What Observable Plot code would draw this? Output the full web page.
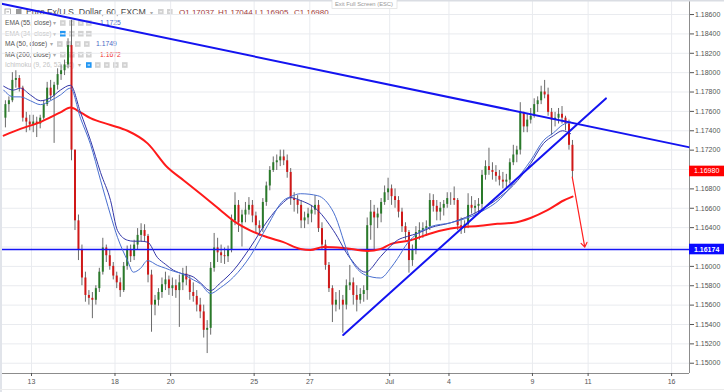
<!DOCTYPE html>
<html><head><meta charset="utf-8">
<script src="https://cdn.jsdelivr.net/npm/d3@7"></script>
<script src="https://cdn.jsdelivr.net/npm/@observablehq/plot@0.6"></script>
<style>
html,body{margin:0;padding:0;background:#fff;}
#chart{width:724px;height:392px;overflow:hidden;}
</style></head><body><div id="chart"></div>
<script>
// ---- data (EUR/USD, 3-hour bars) ----
const barHours = 3;
const firstOpen = 1.1753;
const close = [
 1.1767,1.1771,1.1792,1.1794,1.1784,1.1753,1.1749,1.1746,
 1.1749,1.1747,1.1753,1.1767,1.1784,1.1776,1.1787,1.1798,
 1.1802,1.1808,1.1828,1.1720,1.1647,1.1617,1.1588,1.1570,
 1.1567,1.1565,1.1577,1.1594,1.1619,1.1611,1.1600,1.1590,
 1.1583,1.1575,1.1600,1.1617,1.1610,1.1622,1.1632,1.1637,
 1.1631,1.1591,1.1560,1.1565,1.1573,1.1581,1.1586,1.1577,
 1.1580,1.1575,1.1583,1.1592,1.1586,1.1573,1.1569,1.1560,
 1.1553,1.1534,1.1536,1.1598,1.1619,1.1614,1.1611,1.1610,
 1.1617,1.1647,1.1663,1.1645,1.1653,1.1658,1.1663,1.1652,
 1.1642,1.1639,1.1666,1.1683,1.1699,1.1707,1.1709,1.1713,
 1.1709,1.1697,1.1670,1.1668,1.1663,1.1647,1.1650,1.1654,
 1.1658,1.1663,1.1639,1.1622,1.1601,1.1577,1.1560,1.1565,
 1.1565,1.1560,1.1580,1.1583,1.1570,1.1565,1.1571,1.1575,
 1.1642,1.1656,1.1650,1.1654,1.1666,1.1676,1.1680,1.1672,
 1.1668,1.1656,1.1641,1.1635,1.1606,1.1617,1.1635,1.1637,
 1.1639,1.1641,1.1668,1.1662,1.1656,1.1660,1.1664,1.1670,
 1.1670,1.1668,1.1642,1.1639,1.1643,1.1663,1.1660,1.1662,
 1.1664,1.1694,1.1703,1.1699,1.1697,1.1693,1.1689,1.1687,
 1.1689,1.1707,1.1715,1.1720,1.1759,1.1744,1.1751,1.1755,
 1.1767,1.1771,1.1780,1.1777,1.1759,1.1751,1.1753,1.1757,
 1.1753,1.1747,1.1725,1.1698];
const high = [
 1.1771,1.1775,1.1800,1.1802,1.1797,1.1786,1.1759,1.1756,
 1.1756,1.1754,1.1756,1.1771,1.1790,1.1792,1.1790,1.1804,
 1.1808,1.1813,1.1835,1.1854,1.1720,1.1653,1.1622,1.1594,
 1.1575,1.1573,1.1580,1.1598,1.1629,1.1622,1.1617,1.1604,
 1.1594,1.1588,1.1604,1.1621,1.1622,1.1627,1.1639,1.1644,
 1.1643,1.1633,1.1596,1.1570,1.1577,1.1588,1.1594,1.1590,
 1.1588,1.1586,1.1591,1.1598,1.1600,1.1590,1.1583,1.1575,
 1.1567,1.1560,1.1544,1.1604,1.1634,1.1629,1.1622,1.1619,
 1.1621,1.1653,1.1676,1.1668,1.1658,1.1666,1.1671,1.1668,
 1.1656,1.1647,1.1670,1.1687,1.1703,1.1713,1.1715,1.1720,
 1.1720,1.1715,1.1701,1.1676,1.1673,1.1668,1.1656,1.1660,
 1.1663,1.1673,1.1668,1.1645,1.1627,1.1604,1.1580,1.1573,
 1.1575,1.1570,1.1586,1.1601,1.1588,1.1580,1.1577,1.1580,
 1.1650,1.1668,1.1663,1.1660,1.1670,1.1683,1.1691,1.1684,
 1.1680,1.1672,1.1660,1.1645,1.1637,1.1622,1.1641,1.1645,
 1.1645,1.1647,1.1675,1.1674,1.1668,1.1666,1.1668,1.1676,
 1.1676,1.1682,1.1670,1.1650,1.1647,1.1675,1.1672,1.1668,
 1.1670,1.1699,1.1709,1.1722,1.1707,1.1704,1.1699,1.1697,
 1.1695,1.1711,1.1725,1.1724,1.1769,1.1759,1.1757,1.1763,
 1.1773,1.1775,1.1786,1.1792,1.1784,1.1763,1.1759,1.1763,
 1.1765,1.1755,1.1751,1.1730];
const low = [
 1.1743,1.1759,1.1769,1.1784,1.1780,1.1749,1.1738,1.1740,
 1.1738,1.1733,1.1742,1.1751,1.1765,1.1771,1.1727,1.1782,
 1.1792,1.1797,1.1804,1.1709,1.1637,1.1606,1.1580,1.1563,
 1.1560,1.1546,1.1560,1.1573,1.1591,1.1604,1.1596,1.1586,
 1.1577,1.1568,1.1573,1.1596,1.1604,1.1606,1.1617,1.1625,
 1.1625,1.1583,1.1532,1.1549,1.1559,1.1567,1.1575,1.1570,
 1.1569,1.1567,1.1537,1.1575,1.1580,1.1565,1.1563,1.1553,
 1.1546,1.1526,1.1510,1.1529,1.1594,1.1604,1.1603,1.1602,
 1.1604,1.1614,1.1642,1.1635,1.1620,1.1645,1.1653,1.1645,
 1.1635,1.1631,1.1635,1.1662,1.1678,1.1697,1.1699,1.1703,
 1.1704,1.1691,1.1663,1.1656,1.1654,1.1639,1.1639,1.1643,
 1.1645,1.1653,1.1635,1.1617,1.1596,1.1573,1.1542,1.1553,
 1.1555,1.1531,1.1555,1.1575,1.1560,1.1553,1.1561,1.1563,
 1.1565,1.1627,1.1617,1.1639,1.1645,1.1663,1.1668,1.1663,
 1.1660,1.1650,1.1635,1.1627,1.1593,1.1600,1.1612,1.1627,
 1.1629,1.1631,1.1637,1.1656,1.1647,1.1647,1.1652,1.1660,
 1.1663,1.1663,1.1637,1.1633,1.1634,1.1639,1.1654,1.1654,
 1.1654,1.1658,1.1689,1.1694,1.1689,1.1687,1.1683,1.1680,
 1.1680,1.1685,1.1704,1.1707,1.1715,1.1738,1.1738,1.1747,
 1.1753,1.1759,1.1767,1.1773,1.1755,1.1735,1.1744,1.1747,
 1.1747,1.1740,1.1720,1.1691];

// moving averages (time in trading days from 12 Jun)
const maTime = [0.00,0.35,0.60,0.96,1.32,1.68,2.04,2.40,2.76,3.12,
 3.48,3.84,4.09,4.45,4.66,4.92,5.17,5.53,5.82,6.10,
 6.35,6.82,7.07,7.43,7.79,8.26,8.87,9.48,10.05,10.31,
 10.67,11.28,11.85,12.46,13.00,13.54,13.90,14.15,14.51,14.87,
 15.34,16.06,17.13,17.85,18.32,18.93,19.40,19.76,20.08,20.37];
const ema55 = [1.1786,1.1782,1.1784,1.1777,1.1771,1.1774,1.1782,1.1787,1.1759,1.1730,
 1.1697,1.1668,1.1637,1.1627,1.1626,1.1626,1.1625,1.1609,1.1602,1.1596,
 1.1593,1.1589,1.1583,1.1575,1.1583,1.1596,1.1620,1.1647,1.1666,1.1671,
 1.1668,1.1658,1.1637,1.1608,1.1594,1.1610,1.1621,1.1627,1.1631,1.1634,
 1.1640,1.1645,1.1658,1.1672,1.1684,1.1706,1.1727,1.1735,1.1740,1.1737];
const ma50 = [1.1782,1.1775,1.1775,1.1771,1.1767,1.1771,1.1777,1.1784,1.1753,1.1726,
 1.1689,1.1653,1.1630,1.1606,1.1594,1.1598,1.1606,1.1601,1.1598,1.1595,
 1.1593,1.1586,1.1582,1.1572,1.1578,1.1589,1.1611,1.1642,1.1668,1.1672,
 1.1675,1.1673,1.1656,1.1608,1.1591,1.1588,1.1598,1.1608,1.1624,1.1634,
 1.1641,1.1645,1.1656,1.1670,1.1686,1.1709,1.1730,1.1738,1.1746,1.1749];
const ma200Time = [0.00,0.60,1.32,2.04,2.40,2.76,3.12,3.84,4.45,5.17,
 5.89,6.46,7.07,7.79,8.26,8.87,9.48,10.05,10.67,11.02,
 11.49,12.21,13.07,13.54,13.90,14.62,15.34,16.06,17.13,17.74,
 18.32,18.93,19.54,20.12,20.44];
const ma200 = [1.1735,1.1742,1.1749,1.1759,1.1764,1.1759,1.1753,1.1746,1.1740,1.1727,
 1.1702,1.1689,1.1675,1.1658,1.1647,1.1637,1.1630,1.1625,1.1618,1.1617,
 1.1620,1.1619,1.1616,1.1618,1.1623,1.1627,1.1634,1.1639,1.1642,1.1644,
 1.1645,1.1650,1.1658,1.1668,1.1672];

// drawn objects
const downTrendT = [-0.114, 24.61], downTrendP = [1.18714, 1.17231];
const upTrendT = [12.20, 21.64], upTrendP = [1.15291, 1.17734];
const support = 1.16174;
const lastClose = 1.16980;
const arrowT = [20.43, 20.88], arrowP = [1.16921, 1.16199];

// axes
const tickDays = [1, 4, 6, 9, 11, 13.87, 16, 19, 21, 24];
const tickLabels = ["13","18","20","25","27","Jul","4","9","11","16"];
const priceTicks = [1.150,1.152,1.154,1.156,1.158,1.160,1.162,1.164,1.166,1.168,
 1.170,1.172,1.174,1.176,1.178,1.180,1.182,1.184,1.186];
// labels hidden in the reference under the two price tags
const priceLabels = [1.150,1.152,1.154,1.156,1.158,1.160,1.164,1.166,1.168,
 1.172,1.174,1.176,1.178,1.180,1.182,1.184,1.186];
const xDomain = [-0.114, 24.643], yDomain = [1.14894, 1.18745];

// legend texts
const title = "Euro Fx/U.S. Dollar, 60, FXCM";
const ohlcLabels = ["O1.17037", "H1.17044", "L1.16905", "C1.16980"];
const studies = [
  {label: "EMA (55, close)", value: "1.1725", color: "#4a68c4", on: true},
  {label: "EMA (34, close)", value: null, on: false},
  {label: "MA (50, close)", value: "1.1749", color: "#4a68c4", on: true},
  {label: "MA (200, close)", value: "1.1672", color: "#f03030", on: true},
  {label: "Ichimoku (9, 26, 52, 26)", value: null, on: false}
];

// ---- build ----
const candles = close.map((c, i) => ({
  t: (i + 0.5) * barHours / 24,
  open: i ? close[i - 1] : firstOpen,
  high: high[i], low: low[i], close: c
}));
const maPts = maTime.map((t, i) => ({t, ema: ema55[i], ma: ma50[i]}));
const ma200Pts = ma200Time.map((t, i) => ({t, v: ma200[i]}));
const downPts = downTrendT.map((t, i) => ({t, p: downTrendP[i]}));
const upPts = upTrendT.map((t, i) => ({t, p: upTrendP[i]}));
const arrowData = [{t1: arrowT[0], p1: arrowP[0], t2: arrowT[1], p2: arrowP[1]}];
const labelOf = new Map(tickDays.map((d, i) => [d, tickLabels[i]]));

const UP = "#2a7a2a", DOWN = "#d01818";
const FONT = "'Liberation Sans', Arial, sans-serif";

const plot = Plot.plot({
  width: 724, height: 392,
  marginTop: 0, marginLeft: 0, marginRight: 35, marginBottom: 19,
  x: {domain: xDomain, label: null},
  y: {domain: yDomain, label: null},
  style: {fontFamily: FONT, background: "#fff"},
  marks: [
    Plot.gridX(tickDays, {stroke: "#e9ebef", strokeOpacity: 1}),
    Plot.gridY(priceTicks, {stroke: "#e9ebef", strokeOpacity: 1}),
    Plot.ruleX([xDomain[1]], {stroke: "#8c8c8c"}),
    Plot.ruleY([yDomain[0]], {stroke: "#8c8c8c"}),
    Plot.axisY(priceLabels, {anchor: "right", tickSize: 4, tickPadding: 1.5, fontSize: 7, color: "#555",
      tickFormat: d => d.toFixed(5)}),
    Plot.axisX(tickDays, {anchor: "bottom", tickSize: 3, tickPadding: 3, fontSize: 7, color: "#555",
      tickFormat: d => labelOf.get(d)}),
    Plot.ruleX(candles, {x: "t", y1: "low", y2: "high", stroke: "#6a6a6a", strokeWidth: 1}),
    Plot.ruleX(candles, {x: "t", y1: "open", y2: "close", strokeWidth: 2,
      stroke: d => d.close >= d.open ? UP : DOWN}),
    Plot.ruleY([support], {stroke: "#1414f5", strokeWidth: 1.6}),
    Plot.line(ma200Pts, {x: "t", y: "v", stroke: "#ff1a1a", strokeWidth: 2, curve: "monotone-x"}),
    Plot.line(maPts, {x: "t", y: "ema", stroke: "#3236a8", strokeWidth: 1, curve: "monotone-x"}),
    Plot.line(maPts, {x: "t", y: "ma", stroke: "#4a70d0", strokeWidth: 1, curve: "monotone-x"}),
    Plot.line(downPts, {x: "t", y: "p", stroke: "#1414f0", strokeWidth: 2}),
    Plot.line(upPts, {x: "t", y: "p", stroke: "#1414f0", strokeWidth: 2}),
    Plot.arrow(arrowData, {x1: "t1", y1: "p1", x2: "t2", y2: "p2", stroke: "#ff2020",
      strokeWidth: 1.2, headLength: 6.5, headAngle: 70})
  ]
});
document.getElementById("chart").appendChild(plot);

// ---- legend & decorations ----
const svg = d3.select(plot);
const yS = plot.scale("y");
const L = svg.insert("g", ":first-child").attr("font-family", FONT).attr("text-anchor", "start");

function icon(g, x, y, fill) {
  g.append("rect").attr("x", x).attr("y", y).attr("width", 5.6).attr("height", 5.6).attr("fill", fill);
  g.append("rect").attr("x", x + 1.6).attr("y", y + 2.3).attr("width", 2.4).attr("height", 1).attr("fill", "#fff");
}
// title row
L.append("rect").attr("x", 5).attr("y", 9).attr("width", 5.5).attr("height", 5.5).attr("fill", "none").attr("stroke", "#999").attr("stroke-width", 0.8);
L.append("line").attr("x1", 6.5).attr("x2", 9).attr("y1", 11.8).attr("y2", 11.8).attr("stroke", "#999").attr("stroke-width", 0.8);
L.append("rect").attr("x", 16).attr("y", 9).attr("width", 5.5).attr("height", 5.5).attr("fill", "#9a9a9a");
L.append("text").attr("x", 26).attr("y", 15).attr("font-size", 8.8).attr("fill", "#4a4a4a").text(title);
L.append("text").attr("x", 150).attr("y", 14.5).attr("font-size", 6).attr("fill", "#aaa").text("▾");
icon(L, 158, 9, "#d2d2d2"); icon(L, 167, 9, "#d2d2d2");
[179, 218, 255, 294].forEach((x, i) =>
  L.append("text").attr("x", x).attr("y", 15).attr("font-size", 8).attr("fill", "#a13a3a").text(ohlcLabels[i]));

// study rows
const rowY = [23, 33.7, 44, 54.7, 65];
const arrowX = [53, 53, 50, 53, 78];
const iconX = [[60, 69, 78, 86], [60, 69, 78, 86], [57, 66, 75, 84], [60, 69, 78, 86], [86, 95, 104, 113, 122]];
const valueX = [100, 0, 96, 100, 0];
studies.forEach((s, r) => {
  const y = rowY[r];
  L.append("text").attr("x", 5).attr("y", y + 2.4).attr("font-size", 6.6)
    .attr("fill", s.on ? "#555" : "#c4c4c4").text(s.label);
  L.append("text").attr("x", arrowX[r]).attr("y", y + 2.2).attr("font-size", 5.5).attr("fill", "#aaa").text("▾");
  iconX[r].forEach((x, k) => icon(L, x, y - 2.8, (!s.on && k === 0) ? "#2196f3" : "#d2d2d2"));
  if (s.value) L.append("text").attr("x", valueX[r]).attr("y", y + 2.4).attr("font-size", 6.8)
    .attr("fill", s.color).text(s.value);
});

// window chrome
const T = svg.append("g").attr("font-family", FONT).attr("text-anchor", "start");
T.append("rect").attr("x", 0).attr("y", 0).attr("width", 2).attr("height", 392).attr("fill", "#e1e4ea");
T.append("rect").attr("x", 0).attr("y", 0).attr("width", 724).attr("height", 1.5).attr("fill", "#dadde3");
T.append("line").attr("x1", 0).attr("x2", 724).attr("y1", 389.5).attr("y2", 389.5).attr("stroke", "#ececec");
T.append("rect").attr("x", 332).attr("y", -1).attr("width", 65).attr("height", 9.5).attr("fill", "#fff").attr("stroke", "#ddd").attr("stroke-width", 0.7);
T.append("text").attr("x", 335).attr("y", 6.3).attr("font-size", 5.8).attr("fill", "#999").text("Exit Full Screen (ESC)");

// price tags on the right axis
function tag(price, fill, bold) {
  const y = yS.apply(price);
  T.append("rect").attr("x", 689).attr("y", y - 5.3).attr("width", 35).attr("height", 10.6).attr("fill", fill);
  T.append("text").attr("x", 694).attr("y", y + 2.5).attr("font-size", 7).attr("fill", "#fff")
    .attr("font-weight", bold ? "bold" : "normal").text(price.toFixed(5));
}
tag(lastClose, "#ff0000", false);
tag(support, "#0a0aff", true);
</script></body></html>
